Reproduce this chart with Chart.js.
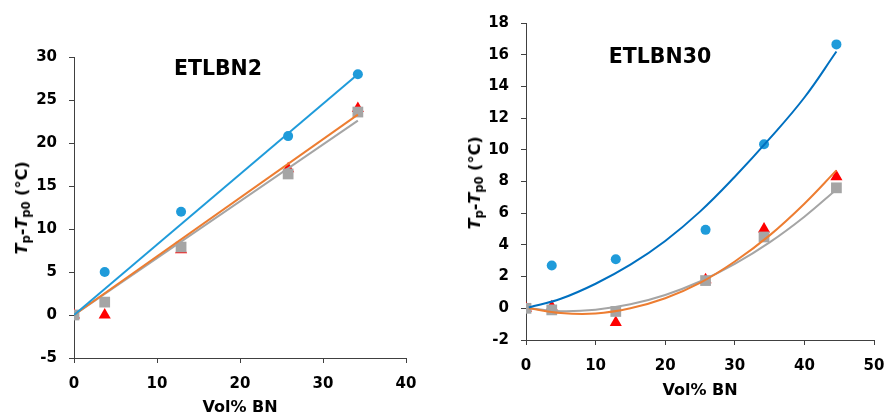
<!DOCTYPE html>
<html>
<head>
<meta charset="utf-8">
<script src="https://cdn.jsdelivr.net/npm/chart.js@4.4.1/dist/chart.umd.min.js"></script>
<style>
  html, body { margin: 0; padding: 0; background: #fff; }
  #wrap { position: relative; width: 887px; height: 415px; overflow: hidden; font-family: "DejaVu Sans", sans-serif; }
  .box { position: absolute; top: 0; }
  .lbl { position: absolute; transform: translate(-50%, -50%); white-space: nowrap; font-weight: bold; color: #000; line-height: 1; }
  .ytitle { position: absolute; transform: translate(-50%, -50%) rotate(-90deg); white-space: nowrap; font-weight: bold; font-size: 16px; color: #000; line-height: 1; }
  .ytitle sub { font-size: 0.72em; vertical-align: -0.28em; line-height: 0; }
</style>
</head>
<body>
<div id="wrap">
  <div class="box" style="left:0px;width:430px;height:415px"><canvas id="c1" width="430" height="415"></canvas></div>
  <div class="box" style="left:440px;width:447px;height:415px"><canvas id="c2" width="447" height="415"></canvas></div>
  <div class="lbl" style="left:218px;top:68px;font-size:20.5px">ETLBN2</div>
  <div class="lbl" style="left:660px;top:56px;font-size:20.5px">ETLBN30</div>
  <div class="ytitle" style="left:22px;top:208px"><i>T</i><sub>p</sub>-<i>T</i><sub>p0</sub> (°C)</div>
  <div class="ytitle" style="left:475px;top:183px"><i>T</i><sub>p</sub>-<i>T</i><sub>p0</sub> (°C)</div>
</div>
<script>
// ---- Left panel (ETLBN2) ----
const xLeft        = [0, 3.7, 12.9, 25.8, 34.2];
const leftCircle   = [0, 5.0, 12.0, 20.8, 28.0];
const leftTriangle = [0, 0.0, 7.6, 17.0, 24.0];
const leftSquare   = [0, 1.5, 7.9, 16.4, 23.6];
const leftTrendX      = [0, 34.2];
const leftTrendBlue   = [0, 28.0];
const leftTrendOrange = [0, 23.3];
const leftTrendGray   = [0, 22.6];
const leftXTicks = [0, 40, 10];   // min, max, step
const leftYTicks = [-5, 30, 5];

// ---- Right panel (ETLBN30) ----
const xRight        = [0, 3.7, 12.9, 25.8, 34.2, 44.6];
const rightCircle   = [0, 2.7, 3.1, 4.95, 10.35, 16.65];
const rightTriangle = [0, 0.1, -0.9, 1.8, 5.0, 8.3];
const rightSquare   = [0, -0.1, -0.2, 1.75, 4.5, 7.6];
const rightCurveX      = [0.4, 5, 10, 15, 20, 25, 30, 35, 40, 44.6];
const rightCurveBlue   = [0.05, 0.6, 1.55, 2.75, 4.25, 6.1, 8.3, 10.7, 13.3, 16.2];
const rightCurveOrange = [0, -0.3, -0.33, 0.0, 0.63, 1.6, 2.95, 4.6, 6.6, 8.7];
const rightCurveGray   = [0, -0.18, -0.09, 0.25, 0.84, 1.69, 2.8, 4.16, 5.78, 7.5];
const rightXTicks = [0, 50, 10];
const rightYTicks = [-2, 18, 2];

const xTitle = 'Vol% BN';

const C_BLUE = '#1F9BDA', C_DBLUE = '#0070C0', C_RED = '#FF0000', C_GRAY = '#A5A5A5', C_ORANGE = '#ED7D31';
const AXIS = '#404040';
const FONT = "'DejaVu Sans', sans-serif";

const pts = (xs, ys) => xs.map((x, i) => ({x, y: ys[i]}));

function lineDs(xs, ys, color, tension) {
  return { type: 'scatter', data: pts(xs, ys), showLine: true, borderColor: color, borderWidth: 2,
           pointRadius: 0, pointHoverRadius: 0, tension: tension, fill: false };
}
function markDs(xs, ys, color, style, r) {
  return { type: 'scatter', data: pts(xs, ys), showLine: false, pointStyle: style, pointRadius: r,
           pointHoverRadius: r, backgroundColor: color, borderColor: color, borderWidth: 0 };
}

function scales(xt, yt, yW, xH, titlePadBottom) {
  const tickFont = { family: FONT, size: 15, weight: 'bold' };
  const grid = { display: true, drawOnChartArea: false, drawTicks: true, tickLength: 5, color: AXIS, lineWidth: 1 };
  const border = { display: true, color: AXIS, width: 1 };
  return {
    x: { type: 'linear', min: xt[0], max: xt[1], grid, border,
         ticks: { stepSize: xt[2], color: '#000', font: tickFont, padding: 12, maxRotation: 0 },
         title: { display: true, text: xTitle, color: '#000', font: { family: FONT, size: 16, weight: 'bold', lineHeight: 1.2 },
                  padding: { top: 0, bottom: titlePadBottom } },
         afterFit: s => { s.height = xH; s.paddingLeft = 0; s.paddingRight = 0; } },
    y: { type: 'linear', min: yt[0], max: yt[1], grid, border,
         ticks: { stepSize: yt[2], color: '#000', font: tickFont, padding: 12 },
         afterFit: s => { s.width = yW; } }
  };
}

function makeChart(id, datasets, sc, padding) {
  new Chart(document.getElementById(id), {
    type: 'scatter',
    data: { datasets },
    options: {
      responsive: false, animation: false, devicePixelRatio: 1,
      layout: { padding },
      scales: sc,
      plugins: { legend: { display: false }, tooltip: { enabled: false }, title: { display: false } },
      events: []
    }
  });
}

makeChart('c1', [
  lineDs(leftTrendX, leftTrendBlue, C_BLUE, 0),
  lineDs(leftTrendX, leftTrendOrange, C_ORANGE, 0),
  lineDs(leftTrendX, leftTrendGray, C_GRAY, 0),
  markDs(xLeft, leftSquare, C_GRAY, 'rect', 7.6),
  markDs(xLeft, leftTriangle, C_RED, 'triangle', 7),
  markDs(xLeft, leftCircle, C_BLUE, 'circle', 5)
], scales(leftXTicks, leftYTicks, 74, 57, -2), { top: 57, right: 24, bottom: 0, left: 0 });

makeChart('c2', [
  lineDs(rightCurveX, rightCurveBlue, C_DBLUE, 0.4),
  lineDs(rightCurveX, rightCurveOrange, C_ORANGE, 0.4),
  lineDs(rightCurveX, rightCurveGray, C_GRAY, 0.4),
  markDs(xRight, rightSquare, C_GRAY, 'rect', 7.6),
  markDs(xRight, rightTriangle, C_RED, 'triangle', 7),
  markDs(xRight, rightCircle, C_BLUE, 'circle', 5)
], scales(rightXTicks, rightYTicks, 86, 75, 15), { top: 23, right: 13, bottom: 0, left: 0 });
</script>
</body>
</html>
